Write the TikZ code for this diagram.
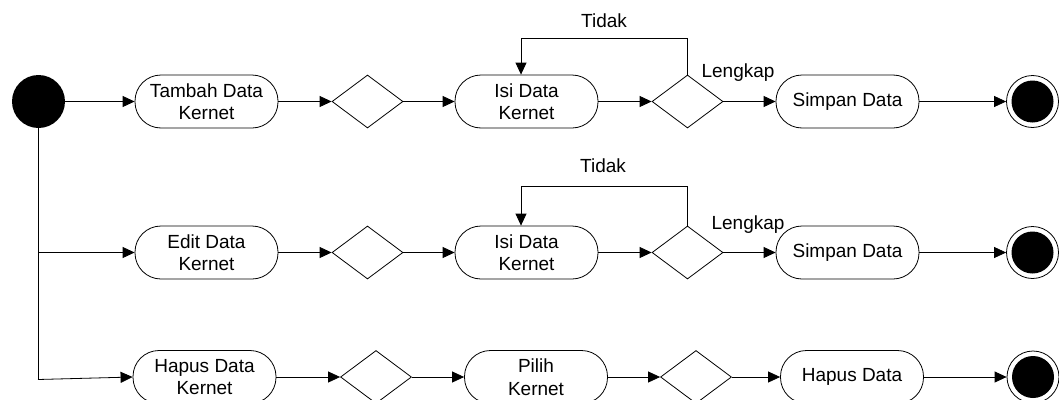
\documentclass[tikz,border=0pt]{standalone}
\usepackage{fontspec}
\setmainfont{Liberation Sans}
\usetikzlibrary{arrows.meta,shapes.geometric}
\begin{document}
\begin{tikzpicture}[x=1pt,y=-1pt,line width=0.8pt,
  font=\fontsize{19}{22.5}\selectfont,
  act/.style={rectangle, rounded corners=26pt, draw=black, align=center, minimum width=143pt, minimum height=53pt, inner sep=2pt},
  dec/.style={diamond, draw=black, minimum width=71pt, minimum height=53pt, inner sep=0pt},
  startnode/.style={circle, fill=black, minimum size=53pt, inner sep=0pt},
  endnode/.style={circle, draw=black, fill=white, minimum size=52pt, inner sep=0pt,
    path picture={\fill[black] (path picture bounding box.center) circle (21pt);}},
  flow/.style={-{Triangle[length=12pt,width=11pt]}}]
\useasboundingbox (0,0) rectangle (1059,399);
% row 1
\node [startnode] (start) at (38.5,101.5) {};
\node [act] (tambah) at (206.5,101.5) {Tambah Data\\Kernet};
\node [dec] (d1a) at (367.5,101.5) {};
\node [act] (isi1) at (526.5,101.5) {Isi Data\\Kernet};
\node [dec] (d1b) at (687.5,101.5) {};
\node [act] (simpan1) at (847.5,101.5) {Simpan Data};
\node [endnode] (end1) at (1032.5,101.5) {};
\node [anchor=base] (tidak1) at (604,27) {Tidak};
\node [anchor=base] (lengkap1) at (738,77) {Lengkap};
\coordinate (t1) at (521,38);
% row 2
\node [act] (edit) at (206.5,252.5) {Edit Data\\Kernet};
\node [dec] (d2a) at (367.5,252.5) {};
\node [act] (isi2) at (526.5,252.5) {Isi Data\\Kernet};
\node [dec] (d2b) at (687.5,252.5) {};
\node [act] (simpan2) at (847.5,252.5) {Simpan Data};
\node [endnode] (end2) at (1032.5,252.5) {};
\node [anchor=base] (tidak2) at (603,172) {Tidak};
\node [anchor=base] (lengkap2) at (748,229) {Lengkap};
\coordinate (t2) at (521,186);
% row 3
\node [act] (hapus) at (204.5,377) {Hapus Data\\Kernet};
\node [dec] (d3a) at (376,377) {};
\node [act] (pilih) at (536,377) {Pilih\\Kernet};
\node [dec] (d3b) at (696,377) {};
\node [act] (hapusdata) at (852,377) {Hapus Data};
\node [endnode] (end3) at (1033,377) {};
\coordinate (j2) at (38,252.5);
\coordinate (j3) at (38,379.5);
% connectors
\draw [flow] (start) -- (tambah);
\draw [flow] (tambah) -- (d1a);
\draw [flow] (d1a) -- (isi1);
\draw [flow] (isi1) -- (d1b);
\draw [flow] (d1b) -- (simpan1);
\draw [flow] (simpan1) -- (end1);
\draw [flow] (d1b.north) |- (t1) -- (t1 |- isi1.north);
\draw (start.south -| j3) -- (j3);
\draw [flow] (j2) -- (edit);
\draw [flow] (edit) -- (d2a);
\draw [flow] (d2a) -- (isi2);
\draw [flow] (isi2) -- (d2b);
\draw [flow] (d2b) -- (simpan2);
\draw [flow] (simpan2) -- (end2);
\draw [flow] (d2b.north) |- (t2) -- (t2 |- isi2.north);
\draw [flow] (j3) -- (hapus.west);
\draw [flow] (hapus) -- (d3a);
\draw [flow] (d3a) -- (pilih);
\draw [flow] (pilih) -- (d3b);
\draw [flow] (d3b) -- (hapusdata);
\draw [flow] (hapusdata) -- (end3);
\end{tikzpicture}
\end{document}
